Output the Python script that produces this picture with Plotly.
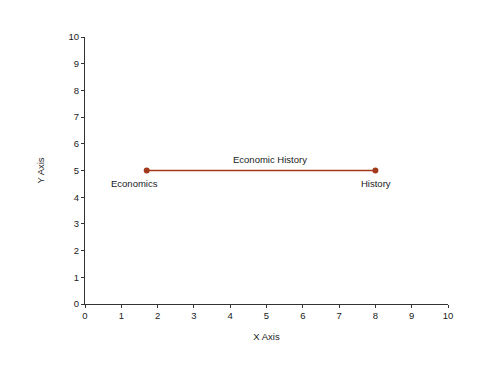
import plotly.graph_objects as go

xs = [1.7, 8.0]
ys = [5.0, 5.0]
point_labels = ["Economics", "History"]
label_xshift = [-12, 1]
edge_label = "Economic History"
tick_vals = list(range(0, 11))

color = "#a2381c"
font = dict(family="Liberation Sans", size=9.5, color="#1a1a1a")

fig = go.Figure()
fig.add_trace(go.Scatter(x=xs, y=ys, mode="lines+markers",
                         line=dict(color=color, width=1.5),
                         marker=dict(color=color, size=6),
                         hoverinfo="skip", showlegend=False))
for x, y, t, dx in zip(xs, ys, point_labels, label_xshift):
    fig.add_annotation(x=x, y=y, text=t, showarrow=False, yshift=-13, xshift=dx, font=font)
fig.add_annotation(x=(xs[0] + xs[1]) / 2 + 0.25, y=ys[0], text=edge_label,
                   showarrow=False, yshift=11, font=font)

axis_common = dict(showgrid=False, zeroline=False, showline=True, linecolor="#333",
                   linewidth=1, ticks="outside", ticklen=3, tickcolor="#333",
                   tickfont=font, tickvals=tick_vals, fixedrange=True)
fig.update_xaxes(range=[0, 10], title=dict(text="X Axis", font=font, standoff=12), **axis_common)
fig.update_yaxes(range=[0, 10], title=dict(text="Y Axis", font=font, standoff=22), **axis_common)

fig.update_layout(width=500, height=375, margin=dict(l=85, r=52, t=37, b=71),
                  plot_bgcolor="white", paper_bgcolor="white")
fig.write_html("out.html")
